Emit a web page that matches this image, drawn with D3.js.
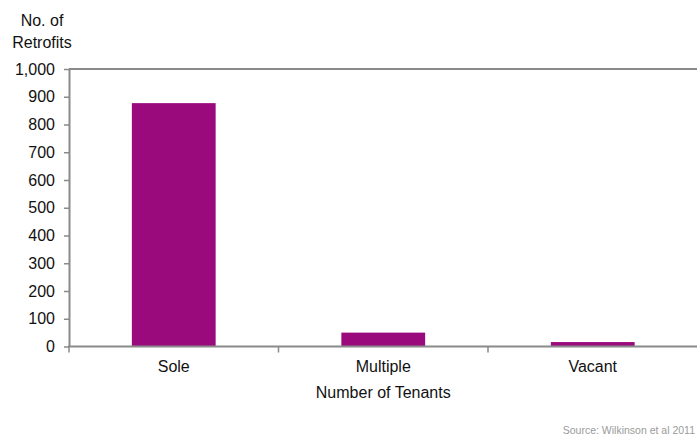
<!DOCTYPE html>
<html>
<head>
<meta charset="utf-8">
<script src="https://cdn.jsdelivr.net/npm/d3@7"></script>
<style>
  html, body { margin: 0; padding: 0; background: #fff; overflow: hidden; }
  svg { display: block; font-family: "Liberation Sans", Arial, sans-serif; }
</style>
</head>
<body>
<svg id="chart" width="697" height="439"></svg>
<script>
// Retrofits by number of tenants
const categories = ["Sole", "Multiple", "Vacant"];
const retrofits = [877, 50, 16];
const yTicks = [0, 100, 200, 300, 400, 500, 600, 700, 800, 900, 1000];
const yTitle = ["No. of", "Retrofits"];
const xTitle = "Number of Tenants";
const sourceNote = "Source: Wilkinson et al 2011";

const svg = d3.select("#chart");
const W = 697, H = 439;
const plot = { left: 69, right: 697.5, top: 69, bottom: 346.5 };
const axisColor = "#8a8a8a";
const barColor = "#9b0a7d";

const x = d3.scaleBand()
  .domain(categories)
  .range([plot.left, plot.right])
  .paddingInner(0.6)
  .paddingOuter(0.3);

const y = d3.scaleLinear().domain([0, 1000]).range([plot.bottom, plot.top]);

// bars
svg.append("g")
  .selectAll("rect")
  .data(categories.map((c, i) => ({ c, v: retrofits[i] })))
  .join("rect")
  .attr("x", d => x(d.c))
  .attr("width", x.bandwidth())
  .attr("y", d => y(d.v))
  .attr("height", d => y(0) - y(d.v))
  .attr("fill", barColor);

// top frame line
svg.append("line")
  .attr("x1", plot.left).attr("x2", W)
  .attr("y1", y(1000)).attr("y2", y(1000))
  .attr("stroke", axisColor).attr("stroke-width", 2);

// y axis
const yAxis = svg.append("g")
  .attr("transform", `translate(${plot.left},0)`)
  .call(d3.axisLeft(y).tickValues(yTicks).tickFormat(d3.format(",")).tickSize(5).tickPadding(9).tickSizeOuter(0));
yAxis.select(".domain").attr("stroke", axisColor).attr("stroke-width", 2);
yAxis.selectAll(".tick line").attr("stroke", axisColor).attr("stroke-width", 1.5);
yAxis.selectAll(".tick text").attr("fill", "#111").style("font-size", "16px");

// x axis line
svg.append("line")
  .attr("x1", plot.left - 1).attr("x2", W)
  .attr("y1", plot.bottom).attr("y2", plot.bottom)
  .attr("stroke", axisColor).attr("stroke-width", 2);

// tick marks between categories
const gap = x.step() - x.bandwidth();
const bounds = categories.map(c => x(c) - gap / 2);
svg.append("g")
  .selectAll("line")
  .data(bounds)
  .join("line")
  .attr("x1", d => d).attr("x2", d => d)
  .attr("y1", plot.bottom).attr("y2", plot.bottom + 6)
  .attr("stroke", axisColor).attr("stroke-width", 1.5);

// category labels
const xAxis = svg.append("g")
  .attr("transform", `translate(0,${plot.bottom})`)
  .call(d3.axisBottom(x).tickSize(0).tickPadding(14));
xAxis.select(".domain").remove();
xAxis.selectAll(".tick text").attr("fill", "#111").style("font-size", "16px");

// axis titles
svg.append("text")
  .attr("x", (plot.left + plot.right) / 2).attr("y", 398)
  .attr("text-anchor", "middle")
  .attr("fill", "#111").style("font-size", "16px")
  .text(xTitle);

svg.append("g")
  .selectAll("text")
  .data(yTitle)
  .join("text")
  .attr("x", 42).attr("y", (d, i) => 26 + i * 22)
  .attr("text-anchor", "middle")
  .attr("fill", "#111").style("font-size", "16px")
  .text(d => d);

// source note
svg.append("text")
  .attr("x", 695).attr("y", 434)
  .attr("text-anchor", "end")
  .attr("fill", "#9a9a9a").style("font-size", "10.5px")
  .text(sourceNote);
</script>
</body>
</html>
